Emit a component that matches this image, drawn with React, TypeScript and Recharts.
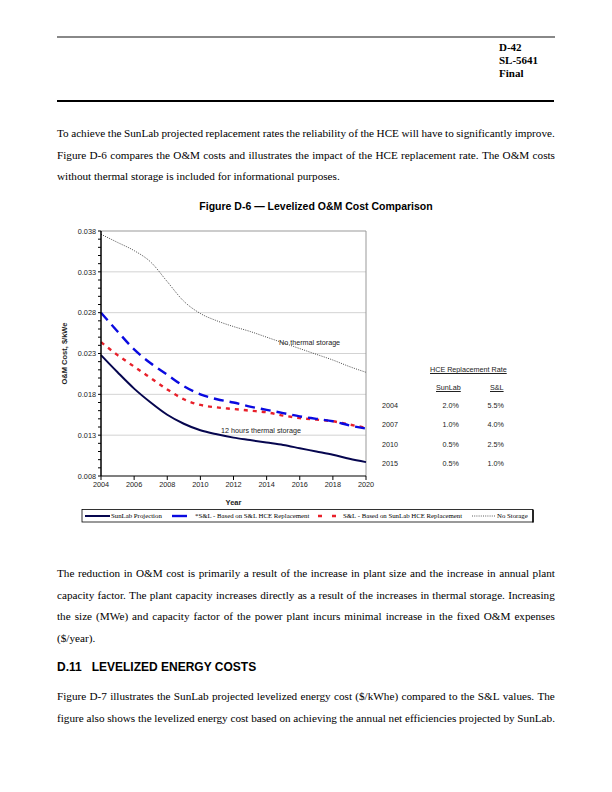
import React from 'react';
import { LineChart, Line, XAxis, YAxis, ReferenceLine } from 'recharts';

// years on the x axis
const YEARS = [2004, 2005, 2006, 2007, 2008, 2009, 2010, 2011, 2012, 2013, 2014, 2015, 2016, 2017, 2018, 2019, 2020];
// $/kWe values
const SUNLAB = [0.0228, 0.0207, 0.0187, 0.017, 0.0155, 0.0144, 0.0136, 0.0131, 0.0127, 0.0124, 0.0121, 0.0118, 0.0114, 0.011, 0.0106, 0.0101, 0.0097];
const SL_SL = [0.028, 0.0257, 0.0235, 0.0218, 0.0204, 0.019, 0.018, 0.0174, 0.017, 0.0165, 0.0161, 0.0157, 0.0153, 0.015, 0.0147, 0.0142, 0.0138];
const SL_SUNLAB = [0.0244, 0.0228, 0.0214, 0.02, 0.0186, 0.0174, 0.0167, 0.0164, 0.0162, 0.016, 0.0158, 0.0154, 0.0151, 0.0149, 0.0147, 0.0143, 0.0139];
const NO_STORAGE = [0.0376, 0.0366, 0.0356, 0.0342, 0.0318, 0.0294, 0.0279, 0.027, 0.0263, 0.0257, 0.025, 0.0243, 0.0236, 0.0229, 0.0222, 0.0214, 0.0207];

const X_TICKS = [2004, 2006, 2008, 2010, 2012, 2014, 2016, 2018, 2020];
const Y_MAJOR = [0.008, 0.013, 0.018, 0.023, 0.028, 0.033, 0.038];
const Y_ALL = [
  0.008, 0.009, 0.01, 0.011, 0.012, 0.013, 0.014, 0.015, 0.016, 0.017, 0.018,
  0.019, 0.02, 0.021, 0.022, 0.023, 0.024, 0.025, 0.026, 0.027, 0.028,
  0.029, 0.03, 0.031, 0.032, 0.033, 0.034, 0.035, 0.036, 0.037, 0.038,
];
const GRID = [0.013, 0.018, 0.023, 0.028, 0.033];

// HCE replacement rate table
const TABLE_YEARS = ['2004', '2007', '2010', '2015'];
const TABLE_SUNLAB = ['2.0%', '1.0%', '0.5%', '0.5%'];
const TABLE_SL = ['5.5%', '4.0%', '2.5%', '1.0%'];

const rows = YEARS.map((year, i) => ({
  year,
  sunlab: SUNLAB[i],
  slsl: SL_SL[i],
  slsun: SL_SUNLAB[i],
  nostore: NO_STORAGE[i],
}));

const SERIF = '"Liberation Serif", "Times New Roman", serif';
const SANS = '"Liberation Sans", Arial, sans-serif';
const BODY = 11.2;

const PARA1 = [
  'To achieve the SunLab projected replacement rates the reliability of the HCE will have to significantly improve.',
  'Figure D-6 compares the O&M costs and illustrates the impact of the HCE replacement rate. The O&M costs',
];
const PARA1_LAST = 'without thermal storage is included for informational purposes.';
const PARA2 = [
  'The reduction in O&M cost is primarily a result of the increase in plant size and the increase in annual plant',
  'capacity factor. The plant capacity increases directly as a result of the increases in thermal storage. Increasing',
  'the size (MWe) and capacity factor of the power plant incurs minimal increase in the fixed O&M expenses',
];
const PARA2_LAST = '($/year).';
const PARA3 = [
  'Figure D-7 illustrates the SunLab projected levelized energy cost ($/kWhe) compared to the S&L values. The',
  'figure also shows the levelized energy cost based on achieving the annual net efficiencies projected by SunLab.',
];

const Justified = ({ text, y }: { text: string; y: number }) => (
  <div
    style={{
      position: 'absolute', left: 57, top: y - 8, width: 498, height: 16, lineHeight: '16px',
      fontFamily: SERIF, fontSize: BODY, display: 'flex', justifyContent: 'space-between', whiteSpace: 'nowrap',
    }}
  >
    {text.split(' ').map((w, i) => <span key={i}>{w}</span>)}
  </div>
);

const Plain = ({ text, y }: { text: string; y: number }) => (
  <div style={{ position: 'absolute', left: 57, top: y - 8, lineHeight: '16px', fontFamily: SERIF, fontSize: BODY, whiteSpace: 'nowrap' }}>
    {text}
  </div>
);

const YTick = (props: any) => {
  const { x, y, payload } = props;
  if (!Y_MAJOR.includes(payload.value)) return <g />;
  return (
    <text x={x} y={y} dy={2.7} textAnchor="end" fontSize={7.3} fontFamily={SANS} fill="#222">
      {payload.value.toFixed(3)}
    </text>
  );
};

const small = (left: number, top: number, text: string, extra: React.CSSProperties = {}) => (
  <div style={{ position: 'absolute', left, top, fontFamily: SANS, fontSize: 7.2, lineHeight: '8px', color: '#222', whiteSpace: 'nowrap', ...extra }}>
    {text}
  </div>
);

export default function App() {
  return (
    <div style={{ position: 'absolute', left: 0, top: 0, width: 612, height: 792, background: '#fff' }}>
      {/* page header */}
      <div style={{ position: 'absolute', left: 57, top: 36, width: 498, height: 1.5, background: '#888' }} />
      <div style={{ position: 'absolute', left: 499, top: 41, fontFamily: SERIF, fontWeight: 'bold', fontSize: 11, lineHeight: '13px' }}>
        D-42<br />SL-5641<br />Final
      </div>
      <div style={{ position: 'absolute', left: 57, top: 100, width: 497, height: 1.5, background: '#000' }} />

      {PARA1.map((t, i) => <Justified key={i} text={t} y={133 + i * 21.5} />)}
      <Plain text={PARA1_LAST} y={176} />

      <div style={{ position: 'absolute', left: 10, width: 612, top: 199, textAlign: 'center', fontFamily: SANS, fontWeight: 'bold', fontSize: 10.5, lineHeight: '14px' }}>
        Figure D-6 — Levelized O&amp;M Cost Comparison
      </div>

      {/* chart */}
      <div style={{ position: 'absolute', left: 50, top: 215 }}>
        <LineChart width={330} height={300} data={rows} margin={{ top: 16, right: 14, left: 0, bottom: 0 }}>
          <XAxis
            dataKey="year" type="number" domain={[2004, 2020]} ticks={X_TICKS} height={39}
            tick={{ fontSize: 7.3, fontFamily: SANS, fill: '#222' }} tickSize={4}
            axisLine={{ stroke: '#000', strokeWidth: 1.2 }} tickLine={{ stroke: '#000' }}
            label={{ value: 'Year', position: 'insideBottom', offset: 10, fontSize: 7.5, fontWeight: 'bold', fontFamily: SANS, fill: '#222' }}
          />
          <YAxis
            type="number" domain={[0.008, 0.038]} ticks={Y_ALL} interval={0} width={51}
            tick={<YTick />} tickSize={3} tickMargin={2}
            axisLine={{ stroke: '#000', strokeWidth: 1.5 }} tickLine={{ stroke: '#000' }}
            label={{ value: 'O&M Cost, $/kWe', angle: -90, position: 'insideLeft', offset: 14, fontSize: 7.5, fontWeight: 'bold', fontFamily: SANS, fill: '#222', style: { textAnchor: 'middle' } }}
          />
          {GRID.map(v => <ReferenceLine key={v} y={v} stroke="#c8c8c8" strokeWidth={0.8} />)}
          <ReferenceLine y={0.038} stroke="#999" strokeWidth={1} />
          <ReferenceLine x={2020} stroke="#999" strokeWidth={1} />
          <Line type="monotone" dataKey="nostore" stroke="#333" strokeWidth={0.9} strokeDasharray="1 1.3" dot={false} isAnimationActive={false} />
          <Line type="monotone" dataKey="slsun" stroke="#e8202a" strokeWidth={2.4} strokeDasharray="4 5" dot={false} isAnimationActive={false} />
          <Line type="monotone" dataKey="slsl" stroke="#0a0ae0" strokeWidth={2.4} strokeDasharray="10 6" dot={false} isAnimationActive={false} />
          <Line type="monotone" dataKey="sunlab" stroke="#06064f" strokeWidth={2} dot={false} isAnimationActive={false} />
        </LineChart>
      </div>

      {/* in-chart labels */}
      {small(279, 339, 'No thermal storage')}
      {small(221, 427, '12 hours thermal storage')}

      {/* replacement rate table */}
      {small(430, 366, 'HCE Replacement Rate', { textDecoration: 'underline' })}
      {small(436, 384, 'SunLab', { textDecoration: 'underline' })}
      {small(490, 384, 'S&L', { textDecoration: 'underline' })}
      {TABLE_YEARS.map((yr, i) => {
        const top = 402 + [0, 19.3, 39, 58][i];
        return (
          <React.Fragment key={yr}>
            {small(382, top, yr)}
            {small(420, top, TABLE_SUNLAB[i], { width: 39, textAlign: 'right' })}
            {small(465, top, TABLE_SL[i], { width: 39, textAlign: 'right' })}
          </React.Fragment>
        );
      })}

      {/* legend */}
      <svg style={{ position: 'absolute', left: 0, top: 505 }} width={612} height={22}>
        <rect x={82} y={4.5} width={451} height={12.5} fill="#fff" stroke="#000" strokeWidth={0.8} />
        <line x1={533} y1={5} x2={533} y2={17.5} stroke="#000" strokeWidth={1.5} />
        <line x1={85} y1={11} x2={110} y2={11} stroke="#06064f" strokeWidth={2} />
        <text x={111} y={13.3} fontSize={6.8} fontFamily={SERIF}>SunLab Projection</text>
        <line x1={172} y1={11} x2={187} y2={11} stroke="#0a0ae0" strokeWidth={2.4} />
        <text x={195} y={13.3} fontSize={6.8} fontFamily={SERIF}>*S&amp;L - Based on S&amp;L HCE Replacement</text>
        <line x1={318} y1={11} x2={336} y2={11} stroke="#e8202a" strokeWidth={2.4} strokeDasharray="4 10" />
        <text x={343} y={13.3} fontSize={6.8} fontFamily={SERIF}>S&amp;L - Based on SunLab HCE Replacement</text>
        <line x1={472} y1={11} x2={495} y2={11} stroke="#333" strokeWidth={0.8} strokeDasharray="1 1.2" />
        <text x={497} y={13.3} fontSize={6.8} fontFamily={SERIF}>No Storage</text>
      </svg>

      {PARA2.map((t, i) => <Justified key={i} text={t} y={573 + i * 21.7} />)}
      <Plain text={PARA2_LAST} y={638} />

      <div style={{ position: 'absolute', left: 57, top: 659, fontFamily: SANS, fontWeight: 'bold', fontSize: 12, lineHeight: '16px', whiteSpace: 'pre' }}>
        {'D.11   LEVELIZED ENERGY COSTS'}
      </div>

      {PARA3.map((t, i) => <Justified key={i} text={t} y={696 + i * 21.5} />)}
    </div>
  );
}
